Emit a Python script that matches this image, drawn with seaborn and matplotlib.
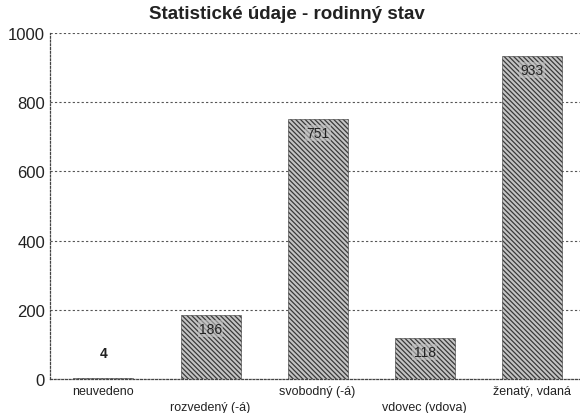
import pandas as pd
import matplotlib
matplotlib.use("Agg")
import matplotlib.pyplot as plt
import seaborn as sns

# data
kategorie = ["neuvedeno", "rozvedený (-á)", "svobodný (-á)", "vdovec (vdova)", "ženatý, vdaná"]
pocty = [4, 186, 751, 118, 933]
y_ticks = [0, 200, 400, 600, 800, 1000]

df = pd.DataFrame({"Stav": kategorie, "Pocet": pocty})

sns.set_theme(style="white")
plt.rcParams["font.family"] = ["Liberation Sans", "DejaVu Sans"]
plt.rcParams["hatch.linewidth"] = 0.9

fig = plt.figure(figsize=(5.8, 4.14), dpi=100)
ax = fig.add_axes([0.086, 0.082, 0.914, 0.836])

sns.barplot(data=df, x="Stav", y="Pocet", color="#c4c4c4", width=0.56, ax=ax)

for p in ax.patches:
    p.set_hatch("\\" * 7)
    p.set_edgecolor("#3a3a3a")
    p.set_linewidth(0.4)

# popisky hodnot
for i, v in enumerate(pocty):
    if v < 50:
        ax.annotate(str(v), (i, v), xytext=(0, 18), textcoords="offset points",
                    ha="center", va="center", fontsize=10, fontweight="bold", color="#222222")
    else:
        ax.annotate(str(v), (i, v), xytext=(0, -10), textcoords="offset points",
                    ha="center", va="center", fontsize=10, color="#222222",
                    bbox=dict(boxstyle="square,pad=0.1", fc="#c4c4c4", ec="none", alpha=0.6))

ax.set_xlim(-0.5, 4.45)
ax.set_ylim(0, 1000)
ax.set_yticks(y_ticks)
ax.set_yticklabels([str(t) for t in y_ticks], fontsize=12, color="#222222")
ax.yaxis.grid(True, linestyle=(0, (2, 2)), color="#555555", linewidth=0.8)
ax.set_axisbelow(True)

# popisky osy x stridave posunute
labels = [k if i % 2 == 0 else "\n" + k for i, k in enumerate(kategorie)]
ax.set_xticks(range(len(kategorie)))
ax.set_xticklabels(labels, fontsize=9, color="#222222", linespacing=1.5)
ax.set_xticks([0.5, 1.5, 2.5, 3.5], minor=True)
ax.tick_params(axis="x", which="major", length=0, pad=4)
ax.tick_params(axis="x", which="minor", length=5, width=0.9, direction="inout", color="#444444")
ax.tick_params(axis="y", length=3, direction="inout", color="#444444", pad=2)

for s in ["top", "right"]:
    ax.spines[s].set_visible(False)
for s in ["left", "bottom"]:
    ax.spines[s].set_linestyle((0, (1.5, 1.5)))
    ax.spines[s].set_color("#444444")
    ax.spines[s].set_linewidth(0.9)

ax.set_xlabel("")
ax.set_ylabel("")
fig.text(0.494, 0.964, "Statistické údaje - rodinný stav", ha="center", va="center",
         fontsize=13.5, fontweight="bold", color="#222222")

fig.savefig("out.png", dpi=100)
